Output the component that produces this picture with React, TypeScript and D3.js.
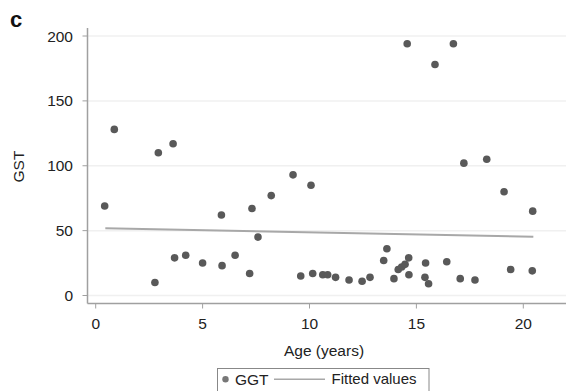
import React from "react";
import * as d3 from "d3";

const ages = [0.42, 0.87, 2.77, 2.93, 3.62, 3.69, 4.21, 5.0, 5.88, 5.91, 6.52, 7.2, 7.31, 7.59, 8.21, 9.23, 9.59, 10.07, 10.15, 10.62, 10.85, 11.22, 11.85, 12.46, 12.83, 13.47, 13.62, 13.95, 14.15, 14.31, 14.47, 14.57, 14.64, 14.65, 15.4, 15.43, 15.57, 15.87, 16.42, 16.73, 17.05, 17.22, 17.74, 18.29, 19.1, 19.41, 20.42, 20.44];
const ggt = [69, 128, 10, 110, 117, 29, 31, 25, 62, 23, 31, 17, 67, 45, 77, 93, 15, 85, 17, 16, 16, 14, 12, 11, 14, 27, 36, 13, 20, 22, 24, 194, 29, 16, 14, 25, 9, 178, 26, 194, 13, 102, 12, 105, 80, 20, 19, 65];
const fitX = [0.45, 20.47];
const fitY = [51.8, 45.3];
const xTicks = [0, 5, 10, 15, 20];
const yTicks = [0, 50, 100, 150, 200];

export default function App() {
  const W = 568, H = 391;
  const x = d3.scaleLinear().domain([0, 20]).range([95.7, 523.3]);
  const y = d3.scaleLinear().domain([0, 200]).range([295.5, 36]);
  const font = "'Liberation Sans', Arial, sans-serif";
  const line = d3.line<number>().x((_, i) => x(fitX[i])).y((d) => y(d));
  const axisY = 303.5, axisX = 87.5, right = 566;
  const fs = 15.5;
  return (
    <svg width={W} height={H} style={{ position: "absolute", left: 0, top: 0 }} fontFamily={font}>
      <rect width={W} height={H} fill="#fff" />
      <text x={10} y={27} fontSize={22} fontWeight="bold" fill="#111">c</text>
      {yTicks.map((t) => (
        <line key={"g" + t} x1={axisX} x2={right} y1={y(t)} y2={y(t)} stroke="#f0f0f0" strokeWidth={1.5} />
      ))}
      <line x1={axisX} x2={axisX} y1={28} y2={axisY} stroke="#a0a0a0" strokeWidth={1.5} />
      <line x1={axisX} x2={right} y1={axisY} y2={axisY} stroke="#a0a0a0" strokeWidth={1.5} />
      {yTicks.map((t) => (
        <g key={"y" + t}>
          <line x1={axisX - 5} x2={axisX} y1={y(t)} y2={y(t)} stroke="#a0a0a0" strokeWidth={1} />
          <text x={73} y={y(t)} dy="0.36em" textAnchor="end" fontSize={fs} fill="#222">{t}</text>
        </g>
      ))}
      {xTicks.map((t) => (
        <g key={"x" + t}>
          <line x1={x(t)} x2={x(t)} y1={axisY} y2={axisY + 5} stroke="#a0a0a0" strokeWidth={1} />
          <text x={x(t)} y={329} textAnchor="middle" fontSize={fs} fill="#222">{t}</text>
        </g>
      ))}
      <text x={324} y={356} textAnchor="middle" fontSize={fs} fill="#222">Age (years)</text>
      <text transform={`translate(24,166.5) rotate(-90)`} textAnchor="middle" fontSize={fs} fill="#222">GST</text>
      <path d={line(fitY) || ""} fill="none" stroke="#a8a8a8" strokeWidth={2} />
      {ages.map((a, i) => (
        <circle key={i} cx={x(a)} cy={y(ggt[i])} r={3.8} fill="#595959" />
      ))}
      <rect x={217.5} y={368.5} width={211.5} height={30} fill="#fff" stroke="#888" strokeWidth={1} />
      <circle cx={225.5} cy={379.3} r={3.2} fill="#777" />
      <text x={235} y={379} dy="0.36em" fontSize={fs} fill="#222">GGT</text>
      <line x1={274} x2={325} y1={379.3} y2={379.3} stroke="#a8a8a8" strokeWidth={1.5} />
      <text x={331.5} y={379} dy="0.36em" fontSize={15} fill="#222">Fitted values</text>
    </svg>
  );
}
